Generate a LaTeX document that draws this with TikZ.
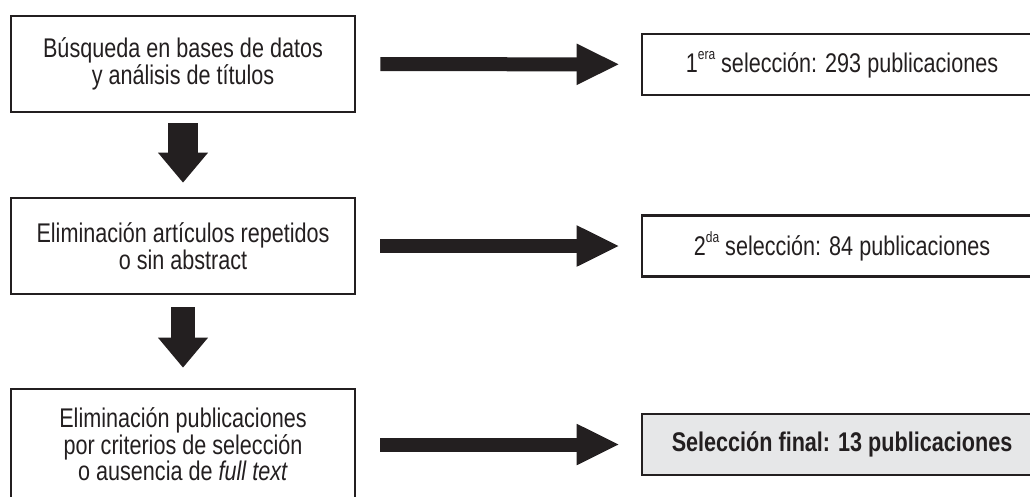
\documentclass[tikz,border=0pt]{standalone}
\usepackage{fontspec}
\setmainfont{Liberation Sans}[FakeStretch=0.8]
\usetikzlibrary{arrows.meta}

\definecolor{ink}{HTML}{231F20}
\definecolor{finalgray}{HTML}{E6E7E8}
\newcommand{\ordsup}[1]{\raisebox{0.9ex}{\fontsize{15}{15}\selectfont #1}}

\begin{document}
\begin{tikzpicture}[x=1pt, y=-1pt,
every node/.style={text=ink, font=\fontsize{27}{26.5}\selectfont},
stepbox/.style={draw=ink, line width=2.6pt, align=center, inner sep=0pt,
  minimum width=344pt, minimum height=96pt},
selbox/.style={draw=ink, line width=2.6pt, inner sep=0pt,
  minimum width=400pt, minimum height=61pt},
rightarrow/.style={draw=ink, line width=14pt,
  -{Triangle[length=43pt, width=38pt]}, shorten <=24pt, shorten >=21pt},
downarrow/.style={draw=ink, line width=26pt,
  -{Triangle[length=30pt, width=48pt]}}
    ]
    \useasboundingbox (0,0) rectangle (1030,496);
    \node[stepbox] (busq) at (183,64) {Búsqueda en bases de datos\\y análisis de títulos};
    \node[stepbox] (elim) at (183,246) {Eliminación artículos repetidos\\o sin abstract};
    \node[stepbox, minimum height=111pt] (crit) at (183,444.5)
      {Eliminación publicaciones\\por criterios de selección\\o ausencia de \textit{full text}};

    \node[selbox] (sel1) at (842,64.5) {1\ordsup{era} selección: 293 publicaciones};
    \node[selbox] (sel2) at (842,246) {2\ordsup{da} selección: 84 publicaciones};
    \node[selbox, fill=finalgray, font=\fontsize{27}{26.5}\bfseries\selectfont] (final) at (842,444.5)
      {Selección final: 13 publicaciones};

    % flechas
    \draw[rightarrow] (busq) -- (sel1);
    \draw[rightarrow] (elim) -- (sel2);
    \draw[rightarrow] (crit) -- (final);
    \draw[downarrow, line width=30pt, shorten <=10pt, shorten >=14pt] (busq) -- (elim);
    \draw[downarrow, line width=24pt, shorten <=12pt, shorten >=20pt] (elim) -- (crit);
\end{tikzpicture}
\end{document}
